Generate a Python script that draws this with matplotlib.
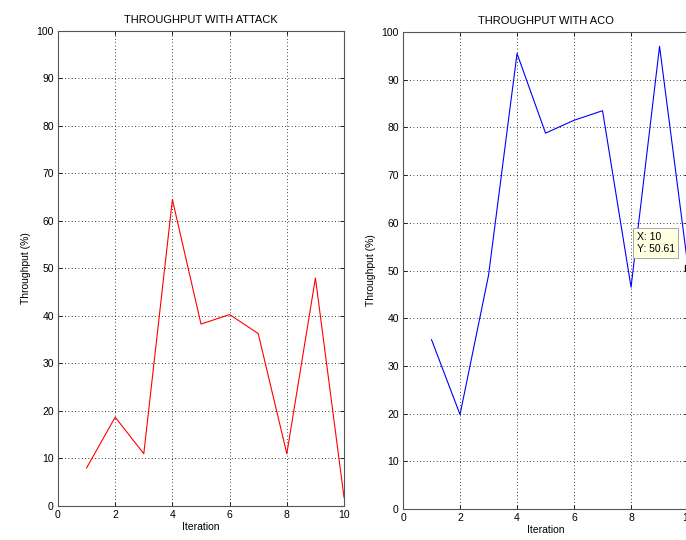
import matplotlib
matplotlib.use("Agg")
import matplotlib.pyplot as plt

plt.rcParams['font.family'] = ['Liberation Sans', 'DejaVu Sans']
plt.rcParams['font.size'] = 7.5

iterations = [1, 2, 3, 4, 5, 6, 7, 8, 9, 10]
attack_throughput = [8.0, 18.7, 11.0, 64.5, 38.3, 40.3, 36.3, 11.0, 48.0, 1.8]
aco_throughput = [35.5, 19.8, 49.0, 95.5, 78.8, 81.5, 83.5, 46.5, 97.0, 50.61]
x_ticks = [0, 2, 4, 6, 8, 10]
y_ticks = [0, 10, 20, 30, 40, 50, 60, 70, 80, 90, 100]


def style_axes(ax, title):
    ax.set_xlim(0, 10)
    ax.set_ylim(0, 100)
    ax.set_xticks(x_ticks)
    ax.set_yticks(y_ticks)
    ax.grid(True, linestyle=(0, (1, 3)), color='black', linewidth=0.6)
    ax.tick_params(direction='in', top=True, right=True, length=3, width=0.6, pad=3)
    for s in ax.spines.values():
        s.set_color('#555555')
        s.set_linewidth(0.8)
    ax.set_title(title, fontsize=8, pad=6)
    ax.set_xlabel("Iteration", labelpad=1)
    ax.set_ylabel("Throughput (%)", labelpad=4)


fig = plt.figure(figsize=(6.86, 5.4), dpi=100)

ax1 = fig.add_axes([0.0845, 0.0630, 0.417, 0.8796])
ax1.plot(iterations, attack_throughput, color='red', linewidth=0.8)
style_axes(ax1, "THROUGHPUT WITH ATTACK")

ax2 = fig.add_axes([0.5875, 0.0574, 0.4155, 0.8833])
ax2.plot(iterations, aco_throughput, color='blue', linewidth=0.8)
style_axes(ax2, "THROUGHPUT WITH ACO")

# data tip on last point
ax2.plot(iterations[-1], aco_throughput[-1], marker='s', color='black', markersize=5, clip_on=False)
ax2.annotate(f"X: {iterations[-1]}\nY: {aco_throughput[-1]}",
             xy=(iterations[-1], aco_throughput[-1]), xytext=(-37, 9.5),
             textcoords='offset points', fontsize=7.5, va='bottom', ha='left',
             linespacing=1.3,
             bbox=dict(boxstyle='square,pad=0.35', fc='#ffffe1', ec='#999999', lw=0.6))

fig.savefig("out.png", dpi=100)
